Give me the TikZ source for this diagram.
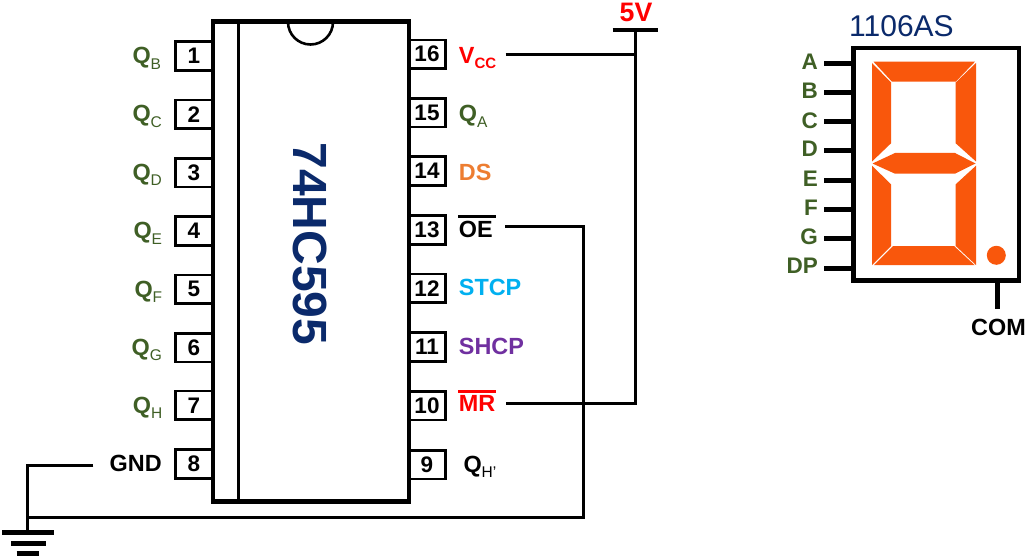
\documentclass[tikz,border=0pt]{standalone}
\usepackage{fontspec}
\setmainfont{Liberation Sans}
\definecolor{qgreen}{HTML}{3F5F25}
\definecolor{navy}{HTML}{0B2A6B}
\definecolor{dsorange}{HTML}{ED7D31}
\definecolor{stcyan}{HTML}{00B0F0}
\definecolor{shpurple}{HTML}{7030A0}
\definecolor{segorange}{HTML}{F9570C}
\newcommand{\subt}[1]{\raisebox{-5.5pt}{\fontsize{15.5}{16}\selectfont\mdseries #1}}
\newcommand{\subb}[1]{\raisebox{-5.5pt}{\fontsize{15}{16}\selectfont\bfseries #1}}
\tikzset{
  pinbox/.style={draw=black,line width=2.6pt,fill=white,minimum width=37pt,minimum height=28.6pt,inner sep=0pt,font=\fontsize{22.5}{24}\selectfont\bfseries,text=black},
  lab/.style={inner sep=0pt,font=\fontsize{23.4}{25}\selectfont\bfseries},
  leftlab/.style={lab,anchor=base west,text=qgreen},
  rightlab/.style={lab,anchor=base west},
  seglab/.style={lab,anchor=base east,text=qgreen,font=\fontsize{22.5}{25}\selectfont\bfseries},
  wire/.style={draw=black,line width=3pt,miter limit=10},
  seg/.style={fill=segorange,draw=none},
  segpin/.style={draw=black,line width=4.6pt}
}
\begin{document}
\begin{tikzpicture}[x=1pt,y=-1pt]
\useasboundingbox (0,0) rectangle (1028,559);
\fill[white] (0,0) rectangle (1028,559);
% pin boxes
\node[pinbox] (p1) at (194,56) {1};
\node[pinbox] (p2) at (194,114.3) {2};
\node[pinbox] (p3) at (194,172.6) {3};
\node[pinbox] (p4) at (194,230.9) {4};
\node[pinbox] (p5) at (194,289.2) {5};
\node[pinbox] (p6) at (194,347.5) {6};
\node[pinbox] (p7) at (194,405.4) {7};
\node[pinbox] (p8) at (194,464) {8};
\node[pinbox] (p16) at (427,54.2) {16};
\node[pinbox] (p15) at (427,112.6) {15};
\node[pinbox] (p14) at (427,171) {14};
\node[pinbox] (p13) at (427,230) {13};
\node[pinbox] (p12) at (427,288.3) {12};
\node[pinbox] (p11) at (427,347) {11};
\node[pinbox] (p10) at (427,405.5) {10};
\node[pinbox] (p9) at (427,464.5) {9};
% IC body
\draw[black,line width=4.4pt,fill=white] (212.8,21.5) rectangle (408.8,501.5);
\draw[black,line width=2.6pt] (238.3,21.5) -- (238.3,501.5);
\draw[black,line width=2.6pt] (288,22) arc[start angle=180,end angle=360,radius=22.5pt];
\node[inner sep=0pt,text=navy,rotate=-90,font=\fontsize{48}{50}\selectfont\bfseries] (title) at (310,244) {74HC595};
% left labels
\node[leftlab] (qb) at (132.3,64) {Q\subt{B}};
\node[leftlab] (qc) at (132.3,122) {Q\subt{C}};
\node[leftlab] (qd) at (132.3,180.5) {Q\subt{D}};
\node[leftlab] (qe) at (133.3,238.5) {Q\subt{E}};
\node[leftlab] (qf) at (134.3,297) {Q\subt{F}};
\node[leftlab] (qg) at (131.5,355) {Q\subt{G}};
\node[leftlab] (qh) at (132.7,413) {Q\subt{H}};
\node[lab,anchor=base west,text=black] (gnd) at (109.5,471.7) {GND};
% right labels
\node[rightlab,text=red] (vcc) at (458.7,63.3) {V\subb{CC}};
\node[rightlab,text=qgreen] (qa) at (458.7,121.7) {Q\subt{A}};
\node[rightlab,text=dsorange] (ds) at (458.7,180) {DS};
\node[rightlab,text=black] (oe) at (458.7,237.3) {OE};
\node[rightlab,text=stcyan] (stcp) at (458.7,295.7) {STCP};
\node[rightlab,text=shpurple] (shcp) at (458.7,354) {SHCP};
\node[rightlab,text=red] (mr) at (458.7,411.7) {MR};
\node[rightlab,text=black] (qhp) at (463.3,472.3) {Q\subt{H’}};
\draw[black,line width=2.6pt] (458.3,216.3) -- (496,216.3);
\draw[red,line width=2.6pt] (458.3,391.3) -- (496,391.3);
% supply
\node[lab,anchor=base west,text=red,font=\fontsize{26.7}{28}\selectfont\bfseries] (fivev) at (619.5,21.7) {5V};
\coordinate (vbarL) at (612.7,30);
\coordinate (vbarR) at (657.7,30);
\coordinate (vtop) at (635.3,30);
\coordinate (vjoin) at (635.3,55);
\coordinate (vcorner) at (635.3,403.3);
\coordinate (vccend) at (505.7,55);
\coordinate (mrend) at (505.7,403.3);
\coordinate (oeend) at (505,226.3);
\coordinate (oecorner) at (583.3,226.3);
\coordinate (oebot) at (583.3,517.3);
\coordinate (gjoin) at (27,517.3);
\coordinate (gndend) at (93.3,465.3);
\coordinate (gcorner) at (27,465.3);
\coordinate (gtop) at (27,532.3);
\draw[black,line width=4.6pt] (vbarL) -- (vbarR);
\draw[wire] (vccend) -- (vjoin);
\draw[wire] (vtop) -- (vcorner) -- (mrend);
\draw[wire] (oeend) -- (oecorner) -- (oebot) -- (gjoin);
\draw[wire] (gndend) -- (gcorner) -- (gtop);
% ground
\draw[black,line width=5pt] (2.3,532.3) -- (53.7,532.3);
\draw[black,line width=5pt] (11,543.3) -- (45.7,543.3);
\draw[black,line width=5pt] (16.7,553.3) -- (39.3,553.3);
% display
\node[inner sep=0pt,anchor=base west,text=navy,font=\fontsize{30}{32}\selectfont] (dispname) at (849,36.7) {1106AS};
\draw[segpin] (824.3,63.3) -- (853.5,63.3);
\draw[segpin] (824.3,92.3) -- (853.5,92.3);
\draw[segpin] (824.3,121.3) -- (853.5,121.3);
\draw[segpin] (824.3,150.3) -- (853.5,150.3);
\draw[segpin] (824.3,180.3) -- (853.5,180.3);
\draw[segpin] (824.3,209.3) -- (853.5,209.3);
\draw[segpin] (824.3,238.3) -- (853.5,238.3);
\draw[segpin] (824.3,268.3) -- (853.5,268.3);
\draw[black,line width=4.6pt] (853.5,48) rectangle (1019,280.5);
\draw[segpin] (997.3,280.5) -- (997.3,309.3);
\node[seglab] (la) at (818,70) {A};
\node[seglab] (lb) at (818,99) {B};
\node[seglab] (lc) at (818,128.3) {C};
\node[seglab] (ld) at (818,157) {D};
\node[seglab] (le) at (818,186) {E};
\node[seglab] (lf) at (818,215.7) {F};
\node[seglab] (lg) at (818,244.3) {G};
\node[seglab] (ldp) at (818,273.3) {DP};
\node[lab,anchor=base,text=black] (com) at (998.5,335) {COM};
% segments
\fill[seg] (873.5,61.7) -- (975,61.7) -- (955.7,81.7) -- (892,81.7) -- cycle;
\fill[seg] (872,63) -- (891,82.5) -- (891,143.3) -- (872,161.5) -- cycle;
\fill[seg] (976,63) -- (955.7,82.5) -- (955.7,143.3) -- (976,161.5) -- cycle;
\fill[seg] (872.5,163.5) -- (895,153) -- (955,153) -- (975.5,163.5) -- (955,173.7) -- (895,173.7) -- cycle;
\fill[seg] (872,165.7) -- (891,184.3) -- (891,246) -- (872,265) -- cycle;
\fill[seg] (976,165.7) -- (955.7,184.3) -- (955.7,246) -- (976,265) -- cycle;
\fill[seg] (874,265) -- (893,246) -- (954,246) -- (974.5,265) -- cycle;
\fill[seg] (996.3,255.3) circle[radius=9.5pt];
\end{tikzpicture}
\end{document}
